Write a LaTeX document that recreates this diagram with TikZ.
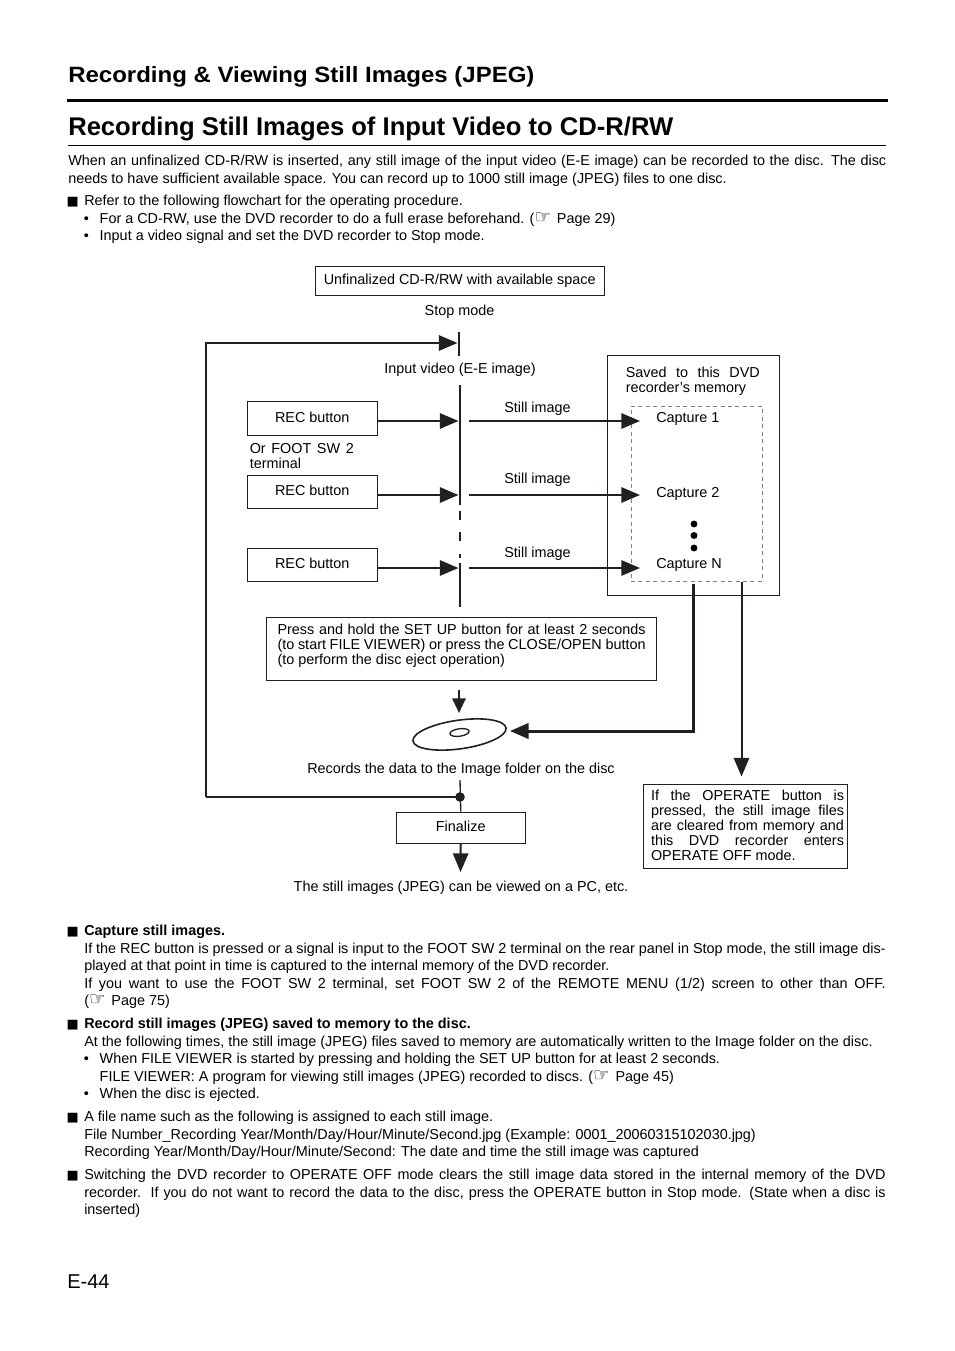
\documentclass[tikz,border=0pt]{standalone}
\usepackage{fontspec}
\setmainfont{Liberation Sans}
\newfontfamily\symfont{DejaVu Sans}
\newfontfamily\headingfont{Liberation Sans}[FakeStretch=1.084]
\usetikzlibrary{arrows.meta}
\usetikzlibrary{shapes.geometric}
\definecolor{inkline}{HTML}{231F20}
\newcommand{\bodyfont}{\fontsize{10.8}{13.2}\selectfont}
\newcommand{\flowfont}{\fontsize{10.8}{11.25}\selectfont}
\newcommand{\sqmark}{\leavevmode\llap{{\symfont\fontsize{9.6}{9.6}\selectfont ■}\hspace{4.2pt}}}
\newcommand{\dotmark}{\leavevmode\llap{•\hspace{8.2pt}}}
\newcommand{\refmark}{{\symfont\fontsize{14}{13}\selectfont ☞}\hspace{1.2pt}}
\tikzset{
	bodytext/.style={anchor=north west,inner sep=0pt,align=justify,font=\bodyfont},
	flowtext/.style={inner sep=0pt,font=\flowfont},
	flowbox/.style={draw=inkline,line width=0.65pt,inner sep=0pt,font=\flowfont},
	thinline/.style={draw=inkline,line width=1pt},
	medline/.style={draw=inkline,line width=1.5pt},
	heavyline/.style={draw=inkline,line width=2.25pt},
	bigtip/.style={-{Triangle[length=14pt,width=11.5pt]}},
	smalltip/.style={-{Triangle[length=11pt,width=10pt]}}
}
\begin{document}
\begin{tikzpicture}[x=0.75pt,y=-0.75pt]
	\useasboundingbox (0,0) rectangle (954,1351);
	% page heading
	\node[anchor=base west,inner sep=0pt,font=\fontsize{16.6}{20}\selectfont\headingfont\bfseries] (heading) at (68,83) {Recording \& Viewing Still Images (JPEG)};
	\coordinate (ruleA) at (67,100.5);
	\coordinate (ruleB) at (888,100.5);
	\draw[black,line width=2.4pt] (ruleA) -- (ruleB);
	\node[anchor=base west,inner sep=0pt,font=\fontsize{19.2}{23}\selectfont\bfseries] (title) at (68,136) {Recording Still Images of Input Video to CD-R/RW};
	\coordinate (ruleC) at (68,145.5);
	\coordinate (ruleD) at (886,145.5);
	\draw[black,line width=0.6pt] (ruleC) -- (ruleD);
	% text above the chart
	\node[bodytext,text width=613.5pt] (intro) at (68,153) {\strut When an unfinalized CD-R/RW is inserted, any still image of the input video (E-E image) can be recorded to the disc. The disc\linebreak needs to have sufficient available space. You can record up to 1000 still image (JPEG) files to one disc.};
	\node[bodytext,text width=601pt] (notes) at (84,193) {\strut\sqmark Refer to the following flowchart for the operating procedure.\par
		\hspace*{11.6pt}\dotmark For a CD-RW, use the DVD recorder to do a full erase beforehand. (\refmark\ Page 29)\par
		\hspace*{11.6pt}\dotmark Input a video signal and set the DVD recorder to Stop mode.};
	% top of the chart
	\node[flowbox,minimum width=217.1pt,minimum height=22.2pt] (disctop) at (459.75,280.8) {\raisebox{-1.2pt}{Unfinalized CD-R/RW with available space}};
	\node[flowtext] (stopmode) at (459.5,312) {Stop mode};
	\node[flowtext] (inputvideo) at (460,370) {Input video (E-E image)};
	\coordinate (barA1) at (459,332);
	\coordinate (barA2) at (459,356);
	\coordinate (barB1) at (460,385);
	\coordinate (barB2) at (460,505);
	\coordinate (barC1) at (460,511);
	\coordinate (barC2) at (460,558);
	\coordinate (barD1) at (460,563);
	\coordinate (barD2) at (460,607);
	\draw[medline] (barA1) -- (barA2);
	\draw[medline] (barB1) -- (barB2);
	\draw[medline,dash pattern=on 6.6pt off 9.5pt] (barC1) -- (barC2);
	\draw[thinline] (barD1) -- (barD2);
	% memory box
	\node[flowbox,minimum width=129.4pt,minimum height=180pt] (memory) at (693.3,475) {};
	\node[draw=gray,line width=0.4pt,dash pattern=on 3pt off 2.6pt,inner sep=0pt,minimum width=98.25pt,minimum height=131.25pt] (captures) at (696.5,493.5) {};
	\node[flowtext,anchor=north west,text width=100.5pt,align=justify] (savedlbl) at (625.5,367) {Saved to this DVD\linebreak recorder’s memory};
	% the three captures
	\foreach \i/\y/\boxy/\stilly/\capy/\capname in {1/421/418.5/409/419/Capture 1,2/495/492/480/494/Capture 2,3/568/565/554/565/Capture N}{
		\node[flowbox,minimum width=97.9pt,minimum height=25.2pt] (rec\i) at (312.25,\boxy) {\raisebox{2.2pt}{REC button}};
		\coordinate (barin\i) at (458.5,\y);
		\coordinate (barout\i) at (469,\y);
		\coordinate (capin\i) at (640,\y);
		\draw[medline,bigtip] (rec\i.east |- barin\i) -- (barin\i);
		\draw[medline,bigtip] (barout\i) -- (capin\i);
		\node[flowtext] (still\i) at (537.5,\stilly) {Still image};
		\node[flowtext,anchor=west] (cap\i) at (656,\capy) {\capname};
	}
	\node[flowtext,anchor=north west,text width=78pt,align=justify] (footsw) at (249.5,443) {Or FOOT SW 2\linebreak terminal};
	\foreach \n/\y in {a/524,b/535.5,c/548}{
		\fill[black] (694,\y) circle (2.6pt) coordinate (more\n);
	}
	% lower part
	\node[flowbox,minimum width=293pt,minimum height=47.25pt] (pressbox) at (461.4,648.5) {};
	\node[flowtext,anchor=north west,text width=276pt,align=justify] (presslbl) at (277.3,623.5) {Press and hold the SET UP button for at least 2 seconds\linebreak (to start FILE VIEWER) or press the CLOSE/OPEN button\linebreak (to perform the disc eject operation)};
	\coordinate (pressout) at (459,690);
	\coordinate (discin) at (459,713);
	\draw[medline,smalltip] (pressout) -- (discin);
	\node[ellipse,draw=inkline,line width=1.2pt,rotate=8,minimum width=70.5pt,minimum height=21.5pt,inner sep=0pt] (disc) at (459.5,734.5) {};
	\node[ellipse,draw=inkline,line width=1pt,rotate=8,minimum width=14.5pt,minimum height=5.6pt,inner sep=0pt] (dischole) at (459.5,732.5) {};
	\coordinate (memoutA) at (693,584);
	\coordinate (disctip) at (510,731);
	\draw[heavyline,bigtip] (memoutA) |- (disctip);
	\coordinate (memoutB) at (741.5,582);
	\coordinate (operatein) at (741.5,776.5);
	\draw[medline,bigtip] (memoutB) -- (operatein);
	\node[flowtext] (recordslbl) at (461,770) {Records the data to the Image folder on the disc};
	\node[flowbox,minimum width=152.9pt,minimum height=63pt] (operate) at (745.6,826) {};
	\node[flowbox,minimum width=97.1pt,minimum height=23.25pt] (finalize) at (460.75,827.5) {\raisebox{1.8pt}{Finalize}};
	\node[flowtext,text width=144.75pt,align=justify] (operatelbl) at (747.5,825.2) {If the OPERATE button is\linebreak pressed, the still image files\linebreak are cleared from memory and\linebreak this DVD recorder enters\linebreak OPERATE OFF mode.};
	\node[flowtext] (viewedlbl) at (461,888) {The still images (JPEG) can be viewed on a PC, etc.};
	\coordinate (recordsout) at (460,780);
	\coordinate (junction) at (460,797);
	\coordinate (loopcorner) at (206,797);
	\coordinate (loopend) at (457.5,343);
	\draw[thinline] (recordsout) -- (finalize.north);
	\fill[inkline] (junction) circle (3.6pt);
	\draw[thinline] (junction) -- (loopcorner);
	\draw[medline,bigtip] (loopcorner) |- (loopend);
	\coordinate (viewedin) at (460.5,872);
	\draw[medline,bigtip] (finalize.south) -- (viewedin);
	% text below the chart
	\node[bodytext,text width=601pt] (capturenote) at (84,923) {\strut\sqmark\textbf{Capture still images.}\par
		If the REC button is pressed or a signal is input to the FOOT SW 2 terminal on the rear panel in Stop mode, the still image dis-\linebreak played at that point in time is captured to the internal memory of the DVD recorder.\par
		If you want to use the FOOT SW 2 terminal, set FOOT SW 2 of the REMOTE MENU (1/2) screen to other than OFF.\linebreak (\refmark\ Page 75)};
	\node[bodytext,text width=601pt] (recordnote) at (84,1016) {\strut\sqmark\textbf{Record still images (JPEG) saved to memory to the disc.}\par
		At the following times, the still image (JPEG) files saved to memory are automatically written to the Image folder on the disc.\par
		\hspace*{11.6pt}\dotmark When FILE VIEWER is started by pressing and holding the SET UP button for at least 2 seconds.\par
		\hspace*{11.6pt}FILE VIEWER: A program for viewing still images (JPEG) recorded to discs. (\refmark\ Page 45)\par
		\hspace*{11.6pt}\dotmark When the disc is ejected.};
	\node[bodytext,text width=601pt] (namenote) at (84,1109) {\strut\sqmark A file name such as the following is assigned to each still image.\par
		File Number\_Recording Year/Month/Day/Hour/Minute/Second.jpg (Example: 0001\_20060315102030.jpg)\par
		Recording Year/Month/Day/Hour/Minute/Second: The date and time the still image was captured};
	\node[bodytext,text width=601pt] (offnote) at (84,1167) {\strut\sqmark Switching the DVD recorder to OPERATE OFF mode clears the still image data stored in the internal memory of the DVD\linebreak recorder.\ \ If you do not want to record the data to the disc, press the OPERATE button in Stop mode. (State when a disc is\linebreak inserted)};
	\node[anchor=base west,inner sep=0pt,font=\fontsize{15}{18}\selectfont] (pagenum) at (67,1288) {E-44};
\end{tikzpicture}
\end{document}
